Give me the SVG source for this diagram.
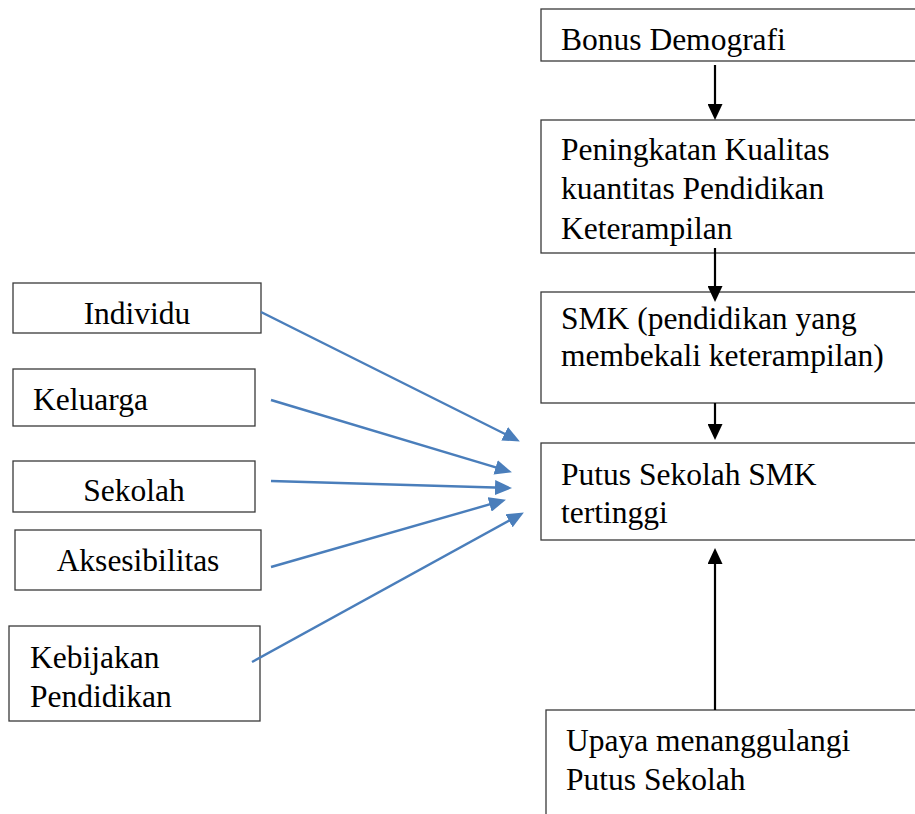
<svg xmlns="http://www.w3.org/2000/svg" width="915" height="814" viewBox="0 0 915 814">
<style>
.box{fill:#fff;stroke:#3a3a3a;stroke-width:1.3}
text{font-family:"Liberation Serif","Times New Roman",serif;font-size:31.5px;fill:#000}
.blk{stroke:#000;stroke-width:2.2;fill:none}
.blu{stroke:#4a7ebb;stroke-width:2.4;fill:none}
</style>
<defs>
<marker id="ak" markerUnits="userSpaceOnUse" markerWidth="16" markerHeight="15" viewBox="0 0 16 15" refX="8" refY="7.5" orient="auto"><path d="M0,0 L16,7.5 L0,15 z" fill="#000"/></marker>
<marker id="ab" markerUnits="userSpaceOnUse" markerWidth="17" markerHeight="15" viewBox="0 0 17 15" refX="8" refY="7.5" orient="auto"><path d="M0,0 L17,7.5 L0,15 z" fill="#4a7ebb"/></marker>
</defs>
<rect width="915" height="814" fill="#fff"/>
<g id="bonus"><rect class="box" x="541" y="9" width="390" height="52"/><text x="561" y="50">Bonus Demografi</text></g>
<g id="peningkatan"><rect class="box" x="541" y="120" width="390" height="133"/><text x="561" y="160">Peningkatan Kualitas</text><text x="561" y="199">kuantitas Pendidikan</text><text x="561" y="239">Keterampilan</text></g>
<g id="smk"><rect class="box" x="541" y="292" width="390" height="111"/><text x="561" y="329">SMK (pendidikan yang</text><text x="561" y="366">membekali keterampilan)</text></g>
<g id="putus"><rect class="box" x="541" y="443" width="390" height="97"/><text x="561" y="485">Putus Sekolah SMK</text><text x="561" y="523">tertinggi</text></g>
<g id="upaya"><rect class="box" x="546" y="710" width="390" height="120"/><text x="566" y="751">Upaya menanggulangi</text><text x="566" y="790">Putus Sekolah</text></g>
<g id="individu"><rect class="box" x="13" y="283" width="248" height="50"/><text x="137" y="324" text-anchor="middle">Individu</text></g>
<g id="keluarga"><rect class="box" x="13" y="369" width="242" height="57"/><text x="33" y="410">Keluarga</text></g>
<g id="sekolah"><rect class="box" x="13" y="461" width="242" height="51"/><text x="134" y="501" text-anchor="middle">Sekolah</text></g>
<g id="aksesibilitas"><rect class="box" x="15" y="530" width="246" height="60"/><text x="138" y="571" text-anchor="middle">Aksesibilitas</text></g>
<g id="kebijakan"><rect class="box" x="9" y="626" width="251" height="95"/><text x="30" y="668">Kebijakan</text><text x="30" y="707">Pendidikan</text></g>
<g id="connectors">
<line class="blk" x1="715" y1="65" x2="715" y2="112" marker-end="url(#ak)"/>
<line class="blk" x1="715" y1="248" x2="715" y2="294" marker-end="url(#ak)"/>
<line class="blk" x1="715" y1="403" x2="715" y2="432" marker-end="url(#ak)"/>
<line class="blk" x1="715" y1="710" x2="715" y2="556" marker-end="url(#ak)"/>
<line class="blu" x1="261" y1="312" x2="511.8" y2="437.4" marker-end="url(#ab)"/>
<line class="blu" x1="271" y1="400" x2="503.3" y2="469.7" marker-end="url(#ab)"/>
<line class="blu" x1="271" y1="481" x2="503" y2="487.8" marker-end="url(#ab)"/>
<line class="blu" x1="271" y1="567" x2="497.3" y2="502.2" marker-end="url(#ab)"/>
<line class="blu" x1="252" y1="662" x2="516" y2="516.9" marker-end="url(#ab)"/>
</g>
</svg>
